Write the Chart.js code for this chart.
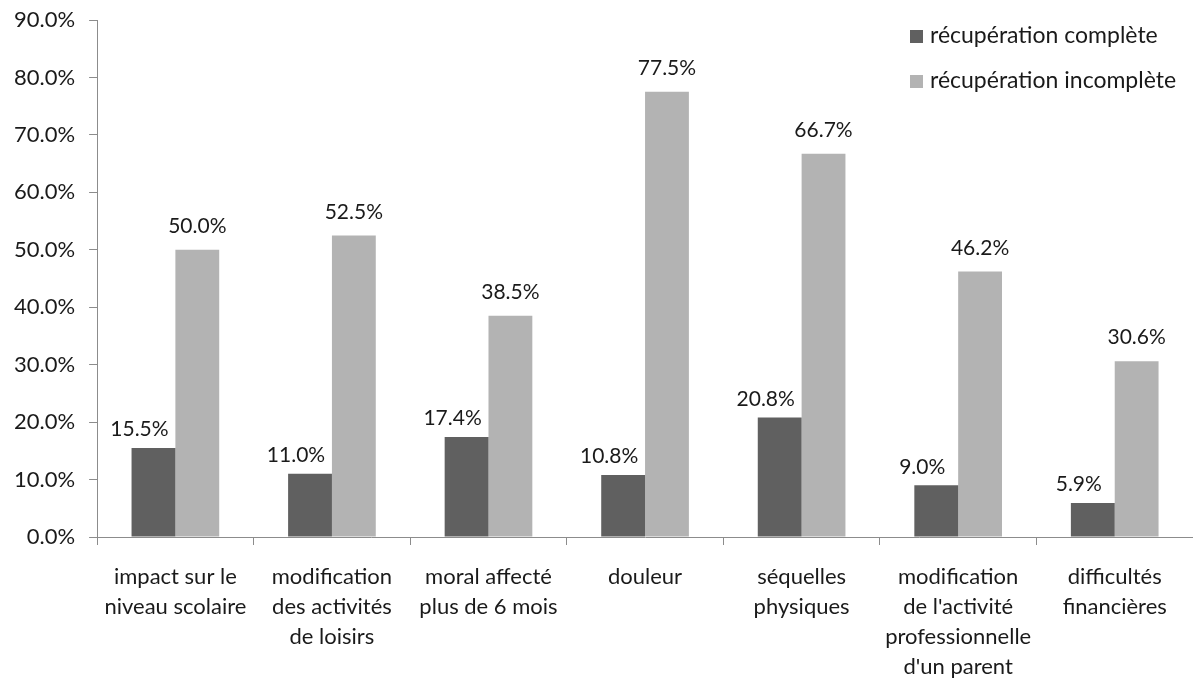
<!DOCTYPE html>
<html>
<head>
<meta charset="utf-8">
<script src="https://cdn.jsdelivr.net/npm/chart.js@4/dist/chart.umd.min.js"></script>
<style>
  html, body { margin: 0; padding: 0; background: #fff; }
  #wrap { width: 1193px; height: 682px; position: relative; }
</style>
</head>
<body>
<div id="wrap"><canvas id="chart"></canvas></div>
<script>
const categories = [
    ['impact sur le', 'niveau scolaire'],
    ['modification', 'des activités', 'de loisirs'],
    ['moral affecté', 'plus de 6 mois'],
    ['douleur'],
    ['séquelles', 'physiques'],
    ['modification', "de l'activité", 'professionnelle', "d'un parent"],
    ['difficultés', 'financières']
];
const seriesNames = ['récupération complète', 'récupération incomplète'];
const completeValues = [15.5, 11.0, 17.4, 10.8, 20.8, 9.0, 5.9];
const incompleteValues = [50.0, 52.5, 38.5, 77.5, 66.7, 46.2, 30.6];
const seriesColors = ['#606060', '#b3b3b3'];
const yTicks = [0, 10, 20, 30, 40, 50, 60, 70, 80, 90];

const FONT = 'Lato, "Liberation Sans", sans-serif';
const textColor = '#1a1a1a';
const axisColor = '#8c8c8c';

// value labels over the bars (dark ones pushed a bit left, as in the original)
const valueLabels = {
    id: 'valueLabels',
    afterDatasetsDraw(chart) {
        const ctx = chart.ctx;
        ctx.save();
        ctx.font = '21px ' + FONT;
        ctx.fillStyle = textColor;
        ctx.textAlign = 'center';
        ctx.textBaseline = 'bottom';
        chart.data.datasets.forEach((ds, i) => {
            chart.getDatasetMeta(i).data.forEach((bar, j) => {
                const shift = i === 0 ? -14 : 0;
                const lift = i === 0 ? 8 : 13;
                ctx.fillText(ds.data[j].toFixed(1) + '%', bar.x + shift, bar.y - lift);
            });
        });
        ctx.restore();
    }
};

// stacked legend in the top right corner
const cornerLegend = {
    id: 'cornerLegend',
    afterDraw(chart) {
        const ctx = chart.ctx;
        ctx.save();
        ctx.font = '23px ' + FONT;
        ctx.textBaseline = 'middle';
        ctx.textAlign = 'left';
        chart.data.datasets.forEach((ds, i) => {
            const y = 36 + i * 45;
            ctx.fillStyle = ds.backgroundColor;
            ctx.fillRect(910, y - 6, 13, 13);
            ctx.fillStyle = textColor;
            ctx.fillText(ds.label, 930, y);
        });
        ctx.restore();
    }
};

new Chart(document.getElementById('chart'), {
    type: 'bar',
    data: {
        labels: categories,
        datasets: [
            { label: seriesNames[0], data: completeValues, backgroundColor: seriesColors[0] },
            { label: seriesNames[1], data: incompleteValues, backgroundColor: seriesColors[1] }
        ]
    },
    options: {
        responsive: true,
        maintainAspectRatio: false,
        animation: false,
        layout: { padding: { left: 0, right: 0, top: 20, bottom: 0 } },
        datasets: { bar: { categoryPercentage: 0.56, barPercentage: 1.0 } },
        plugins: {
            legend: { display: false },
            tooltip: { enabled: false }
        },
        scales: {
            x: {
                afterFit(axis) {
                    axis.height = 145;
                },
                grid: { drawOnChartArea: false, offset: true, tickLength: 8, color: axisColor },
                border: { color: axisColor },
                ticks: {
                    color: textColor,
                    font: { family: FONT, size: 22, lineHeight: 1.36 },
                    padding: 17,
                    maxRotation: 0,
                    autoSkip: false
                }
            },
            y: {
                min: 0,
                max: 90,
                afterBuildTicks(axis) {
                    axis.ticks = yTicks.map(v => ({ value: v }));
                },
                afterFit(axis) {
                    axis.paddingTop = 0;
                    axis.paddingBottom = 0;
                },
                grid: { drawOnChartArea: false, tickLength: 8, color: axisColor },
                border: { color: axisColor },
                ticks: {
                    color: textColor,
                    font: { family: FONT, size: 22 },
                    padding: 14,
                    callback: v => v.toFixed(1) + '%'
                }
            }
        }
    },
    plugins: [valueLabels, cornerLegend]
});
</script>
</body>
</html>
